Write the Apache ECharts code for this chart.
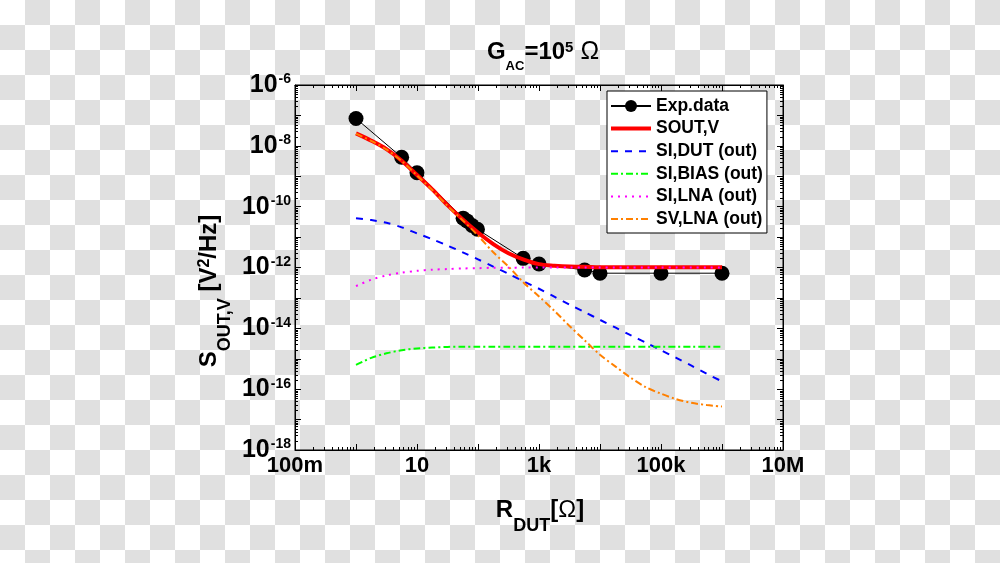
<!DOCTYPE html>
<html>
<head>
<meta charset="utf-8">
<script src="https://cdn.jsdelivr.net/npm/echarts@6/dist/echarts.min.js"></script>
<style>
html,body{margin:0;padding:0;width:1000px;height:563px;overflow:hidden;
background:repeating-conic-gradient(#e0e0e0 0 25%, #ffffff 0 50%) 0 0/50px 50px;}
#chart{width:1000px;height:563px;}
</style>
</head>
<body>
<div id="chart"></div>
<script>
// ---- data ----
const expR = [1, 5.6, 10, 57, 66, 80, 98, 550, 1000, 5600, 10000, 100000, 1000000];
const expS = [7.9e-8, 4.2e-9, 1.3e-9, 4.2e-11, 3.4e-11, 2.4e-11, 1.8e-11, 2.0e-12, 1.3e-12, 8.3e-13, 6.5e-13, 6.5e-13, 6.5e-13];

const modelR = [1, 1.78, 3.16, 5.62, 10, 17.8, 31.6, 56.2, 100, 178, 316, 562, 1000, 1780, 3160, 5620,
  1e4, 1.78e4, 3.16e4, 5.62e4, 1e5, 1.78e5, 3.16e5, 5.62e5, 1e6];
const soutV = [2.57e-8, 1.48e-8, 7.8e-9, 3.24e-9, 1.10e-9, 3.7e-10, 1.12e-10, 3.8e-11, 1.41e-11, 5.9e-12, 2.95e-12, 1.82e-12,
  1.29e-12, 1.15e-12, 1.07e-12, 1.05e-12, 1.02e-12, 1.02e-12, 1.02e-12, 1.02e-12, 1.02e-12, 1.02e-12, 1.02e-12, 1.02e-12, 1.02e-12];
const siDut = [4.17e-11, 3.63e-11, 2.95e-11, 2.09e-11, 1.32e-11, 8.5e-12, 5.25e-12, 3.16e-12, 1.86e-12, 1.07e-12, 6.2e-13, 3.47e-13,
  2.0e-13, 1.1e-13, 6.0e-14, 3.4e-14, 1.9e-14, 1.07e-14, 6.0e-15, 3.4e-15, 1.9e-15, 1.07e-15, 5.9e-16, 3.2e-16, 1.8e-16];
const siBias = [6.3e-16, 1.07e-15, 1.51e-15, 1.91e-15, 2.19e-15, 2.34e-15, 2.45e-15, 2.5e-15, 2.5e-15, 2.5e-15, 2.5e-15, 2.5e-15,
  2.5e-15, 2.5e-15, 2.5e-15, 2.5e-15, 2.5e-15, 2.5e-15, 2.5e-15, 2.5e-15, 2.5e-15, 2.5e-15, 2.5e-15, 2.5e-15, 2.5e-15];
const siLna = [2.45e-13, 3.98e-13, 5.5e-13, 6.76e-13, 7.76e-13, 8.5e-13, 8.9e-13, 9.3e-13, 9.5e-13, 9.8e-13, 9.8e-13, 1.0e-12,
  1.0e-12, 1.0e-12, 1.0e-12, 1.0e-12, 1.0e-12, 1.0e-12, 1.0e-12, 1.0e-12, 1.0e-12, 1.0e-12, 1.0e-12, 1.0e-12, 1.0e-12];
const svLna = [2.51e-8, 1.45e-8, 7.6e-9, 3.16e-9, 1.07e-9, 3.55e-10, 1.07e-10, 3.55e-11, 1.12e-11, 3.16e-12, 1.07e-12, 3.16e-13,
  1.12e-13, 3.8e-14, 1.2e-14, 4.0e-15, 1.35e-15, 5.6e-16, 2.4e-16, 1.17e-16, 7.1e-17, 4.7e-17, 3.55e-17, 3.0e-17, 2.7e-17];

const seriesNames = ['Exp.data', 'SOUT,V', 'SI,DUT (out)', 'SI,BIAS (out)', 'SI,LNA (out)', 'SV,LNA (out)'];
const xTickExp = [-1, 1, 3, 5, 7];
const xTickText = ['100m', '10', '1k', '100k', '10M'];
const yTickExp = [-18, -16, -14, -12, -10, -8, -6];
const X_MIN = 0.1, X_MAX = 1e7, Y_MIN = 1e-18, Y_MAX = 1e-6;

// ---- helpers ----
const FONT = '"Liberation Sans", Arial, Helvetica, sans-serif';
const pair = (xs, ys) => xs.map((x, i) => [x, ys[i]]);
const expOf = v => Math.round(Math.log10(v));
const xMinor = [], yMinor = [];
for (let k = -1; k < 7; k++) for (let m = 2; m <= 9; m++) xMinor.push(m * Math.pow(10, k));
for (let k = -18; k < -6; k++) for (let m = 2; m <= 9; m++) yMinor.push(m * Math.pow(10, k));
const MINOR_LEN = 3, MAJOR_LEN = 6;

function tickLine(x1, y1, x2, y2) {
  return {type: 'line', shape: {x1, y1, x2, y2}, style: {stroke: '#000', lineWidth: 1}};
}
function xMinorItem(params, api) {
  const v = api.value(0);
  const b = api.coord([v, Y_MIN]), t = api.coord([v, Y_MAX]);
  const x = Math.round(b[0]) + 0.5;
  return {type: 'group', children: [tickLine(x, b[1], x, b[1] - MINOR_LEN), tickLine(x, t[1], x, t[1] + MINOR_LEN)]};
}
function yMinorItem(params, api) {
  const v = api.value(1);
  const l = api.coord([X_MIN, v]), r = api.coord([X_MAX, v]);
  const y = Math.round(l[1]) + 0.5;
  return {type: 'group', children: [tickLine(l[0], y, l[0] + MINOR_LEN, y), tickLine(r[0], y, r[0] - MINOR_LEN, y)]};
}

const axisCommon = {
  type: 'log', logBase: 10, interval: 1,
  splitLine: {show: false},
  axisLine: {show: true, onZero: false, lineStyle: {color: '#000', width: 1}},
  axisTick: {show: true, inside: true, length: MAJOR_LEN, lineStyle: {color: '#000', width: 1}},
  minorTick: {show: false}
};

const legendData = seriesNames.map((n, i) => {
  if (i === 0) return {name: n};
  const item = {name: n, itemStyle: {opacity: 0}};
  if (i === 1) item.lineStyle = {width: 4};
  return item;
});

const chart = echarts.init(document.getElementById('chart'), null, {renderer: 'canvas'});
chart.setOption({
  animation: false,
  backgroundColor: 'transparent',
  grid: {left: 295, top: 85, width: 488, height: 365, show: true, borderColor: '#000', borderWidth: 1, backgroundColor: 'transparent'},
  xAxis: [
    Object.assign({}, axisCommon, {
      position: 'bottom', min: X_MIN, max: X_MAX,
      axisLabel: {show: true, margin: 5, color: '#000', fontFamily: FONT, fontWeight: 'bold', fontSize: 22,
        formatter: v => { const i = xTickExp.indexOf(expOf(v)); return i >= 0 ? xTickText[i] : ''; }}
    }),
    Object.assign({}, axisCommon, {position: 'top', min: X_MIN, max: X_MAX, axisLabel: {show: false}})
  ],
  yAxis: [
    Object.assign({}, axisCommon, {
      position: 'left', min: Y_MIN, max: Y_MAX,
      axisLabel: {show: true, margin: 4, color: '#000', fontFamily: FONT, fontWeight: 'bold',
        formatter: v => { const e = expOf(v); return yTickExp.indexOf(e) >= 0 ? '{b|10}{s|' + e + '}' : ''; },
        rich: {
          b: {fontSize: 25, lineHeight: 25, fontWeight: 'bold', fontFamily: FONT, color: '#000', verticalAlign: 'bottom'},
          s: {fontSize: 14, lineHeight: 14, fontWeight: 'bold', fontFamily: FONT, color: '#000', verticalAlign: 'top', padding: [0, 0, 15, 1]}
        }}
    }),
    Object.assign({}, axisCommon, {position: 'right', min: Y_MIN, max: Y_MAX, axisLabel: {show: false}})
  ],
  legend: {
    show: true, orient: 'vertical', left: 607, top: 91,
    data: legendData, selectedMode: false,
    itemWidth: 40, itemHeight: 15, itemGap: 4.6,
    padding: [6, 4, 5, 2],
    backgroundColor: '#fff', borderColor: '#000', borderWidth: 1, borderRadius: 0,
    textStyle: {color: '#000', fontFamily: FONT, fontWeight: 'bold', fontSize: 17.5}
  },
  graphic: [
    {type: 'text', x: 543, y: 40, silent: true, style: {
      text: '{m|G}{sub|AC}{m|=10}{sup|5}{om| Ω}', align: 'center', verticalAlign: 'top',
      rich: {
        m: {fontSize: 24, lineHeight: 24, fontWeight: 'bold', fontFamily: FONT, fill: '#000', verticalAlign: 'top'},
        sub: {fontSize: 13, lineHeight: 13, fontWeight: 'bold', fontFamily: FONT, fill: '#000', verticalAlign: 'top', padding: [20, 0, 0, 0]},
        sup: {fontSize: 15, lineHeight: 15, fontWeight: 'bold', fontFamily: FONT, fill: '#000', verticalAlign: 'top'},
        om: {fontSize: 25, lineHeight: 24, fontWeight: 'normal', fontFamily: FONT, fill: '#000', verticalAlign: 'top'}
      }}},
    {type: 'text', x: 540, y: 498, silent: true, style: {
      text: '{m|R}{sub|DUT}{m|[}{om|Ω}{m|]}', align: 'center', verticalAlign: 'top',
      rich: {
        m: {fontSize: 24, lineHeight: 24, fontWeight: 'bold', fontFamily: FONT, fill: '#000', verticalAlign: 'top'},
        sub: {fontSize: 18, lineHeight: 18, fontWeight: 'bold', fontFamily: FONT, fill: '#000', verticalAlign: 'top', padding: [19, 0, 0, 0]},
        om: {fontSize: 24, lineHeight: 24, fontWeight: 'normal', fontFamily: FONT, fill: '#000', verticalAlign: 'top'}
      }}},
    {type: 'text', x: 197, y: 291, rotation: Math.PI / 2, silent: true, style: {
      text: '{m|S}{sub|OUT,V}{m| [V}{sup|2}{m|/Hz]}', align: 'center', verticalAlign: 'top',
      rich: {
        m: {fontSize: 24, lineHeight: 24, fontWeight: 'bold', fontFamily: FONT, fill: '#000', verticalAlign: 'top'},
        sub: {fontSize: 18, lineHeight: 18, fontWeight: 'bold', fontFamily: FONT, fill: '#000', verticalAlign: 'top', padding: [19, 0, 0, 0]},
        sup: {fontSize: 16, lineHeight: 16, fontWeight: 'bold', fontFamily: FONT, fill: '#000', verticalAlign: 'top'}
      }}}
  ],
  series: [
    {name: seriesNames[0], type: 'line', data: pair(expR, expS), symbol: 'circle', symbolSize: 15,
      itemStyle: {color: '#000'}, lineStyle: {color: '#000', width: 1}, z: 3},
    {name: seriesNames[1], type: 'line', data: pair(modelR, soutV), symbol: 'none', smooth: 0.3,
      itemStyle: {color: '#ff0000'}, lineStyle: {color: '#ff0000', width: 4}, z: 4},
    {name: seriesNames[2], type: 'line', data: pair(modelR, siDut), symbol: 'none', smooth: 0.3,
      itemStyle: {color: '#0000ff'}, lineStyle: {color: '#0000ff', width: 2, type: [7, 7]}, z: 5},
    {name: seriesNames[3], type: 'line', data: pair(modelR, siBias), symbol: 'none', smooth: 0.3,
      itemStyle: {color: '#00ff00'}, lineStyle: {color: '#00ff00', width: 2, type: [7, 3, 2, 3]}, z: 5},
    {name: seriesNames[4], type: 'line', data: pair(modelR, siLna), symbol: 'none', smooth: 0.3,
      itemStyle: {color: '#ff00ff'}, lineStyle: {color: '#ff00ff', width: 2, type: [2, 5]}, z: 6},
    {name: seriesNames[5], type: 'line', data: pair(modelR, svLna), symbol: 'none', smooth: 0.3,
      itemStyle: {color: '#ff8000'}, lineStyle: {color: '#ff8000', width: 2, type: [7, 3, 2, 3]}, z: 7},
    {type: 'custom', data: xMinor.map(v => [v, Y_MIN]), renderItem: xMinorItem, clip: false, silent: true, z: 8,
      encode: {x: 0, y: 1}},
    {type: 'custom', data: yMinor.map(v => [X_MIN, v]), renderItem: yMinorItem, clip: false, silent: true, z: 8,
      encode: {x: 0, y: 1}}
  ]
});
</script>
</body>
</html>
